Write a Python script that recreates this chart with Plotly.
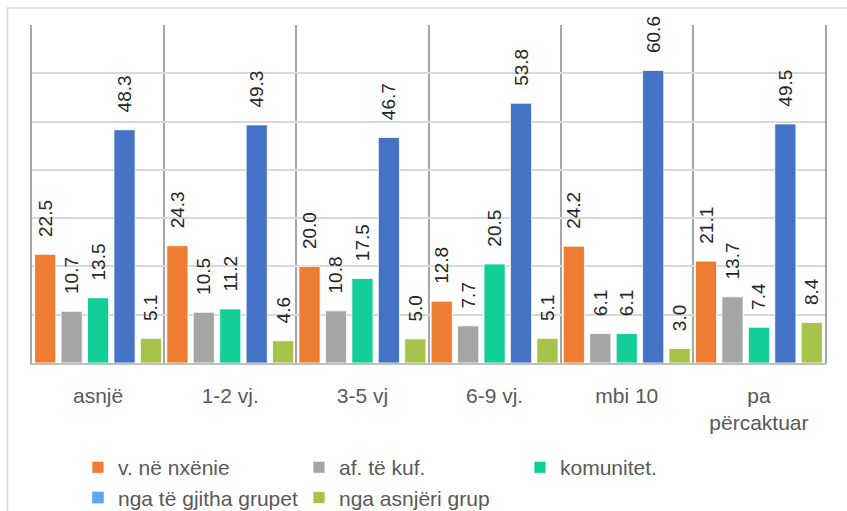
import plotly.graph_objects as go

categories = ["asnjë", "1-2 vj.", "3-5 vj", "6-9 vj.", "mbi 10", "pa<br>përcaktuar"]
series_names = ["v. në nxënie", "af. të kuf.", "komunitet.", "nga të gjitha grupet", "nga asnjëri grup"]
v_ne_nxenie = [22.5, 24.3, 20.0, 12.8, 24.2, 21.1]
af_te_kuf = [10.7, 10.5, 10.8, 7.7, 6.1, 13.7]
komunitet = [13.5, 11.2, 17.5, 20.5, 6.1, 7.4]
te_gjitha = [48.3, 49.3, 46.7, 53.8, 60.6, 49.5]
asnjeri = [5.1, 4.6, 5.0, 5.1, 3.0, 8.4]

series_values = [v_ne_nxenie, af_te_kuf, komunitet, te_gjitha, asnjeri]
colors = ["#ED7D31", "#A5A5A5", "#12CF9A", "#4472C4", "#A5C249"]
legend_blue = "#5BA8F0"

FONT = "Liberation Sans"
PAD = "\u00a0\u00a0\u2009"

fig = go.Figure()
for name, vals, col in zip(series_names, series_values, colors):
    is_blue = name == "nga të gjitha grupet"
    fig.add_trace(go.Bar(
        x=categories, y=vals, name=name,
        marker=dict(color=col, line=dict(color="white", width=0.8)),
        text=[PAD + f"{v:.1f}" for v in vals],
        textposition="outside", textangle=-90, cliponaxis=False,
        constraintext="none",
        textfont=dict(family=FONT, size=19, color="#262626"),
        showlegend=not is_blue,
        hoverinfo="skip",
    ))
    if is_blue:
        fig.add_trace(go.Bar(
            x=[categories[0]], y=[None], name=name,
            marker=dict(color=legend_blue),
            xaxis="x2", yaxis="y2", showlegend=True,
            hoverinfo="skip",
        ))

fig.update_layout(
    width=847, height=511,
    margin=dict(l=32, r=22, t=25, b=148),
    paper_bgcolor="white", plot_bgcolor="white",
    barmode="group", bargap=0.0, bargroupgap=0.2,
    font=dict(family=FONT, size=21, color="#595959"),
    xaxis=dict(
        type="category", tickson="boundaries", showgrid=True,
        gridcolor="#a6a6a6", gridwidth=1.5, ticks="",
        showline=True, linecolor="#bfbfbf", linewidth=1.5,
        tickfont=dict(family=FONT, size=21, color="#595959"),
        ticklabelstandoff=13,
    ),
    yaxis=dict(
        range=[0, 70], dtick=10, showticklabels=False, ticks="",
        showgrid=True, gridcolor="#d9d9d9", gridwidth=1.5, zeroline=False,
        showline=True, mirror=True, linecolor="#a6a6a6", linewidth=1.5,
    ),
    xaxis2=dict(visible=False, overlaying="x", type="category"),
    yaxis2=dict(visible=False, overlaying="y", range=[0, 70]),
    legend=dict(
        orientation="h", x=0.058, xanchor="left",
        yref="container", y=0.125, yanchor="top",
        entrywidth=176, entrywidthmode="pixels",
        font=dict(family=FONT, size=21, color="#595959"),
        traceorder="normal",
    ),
    shapes=[dict(
        type="rect", xref="paper", yref="paper",
        x0=-0.0309, x1=2, y0=-2, y1=1.050,
        line=dict(color="#d9d9d9", width=1.5), layer="below",
    )],
)

fig.write_html("out.html", config={"displayModeBar": False},
               post_script="document.body.style.margin='0';")
